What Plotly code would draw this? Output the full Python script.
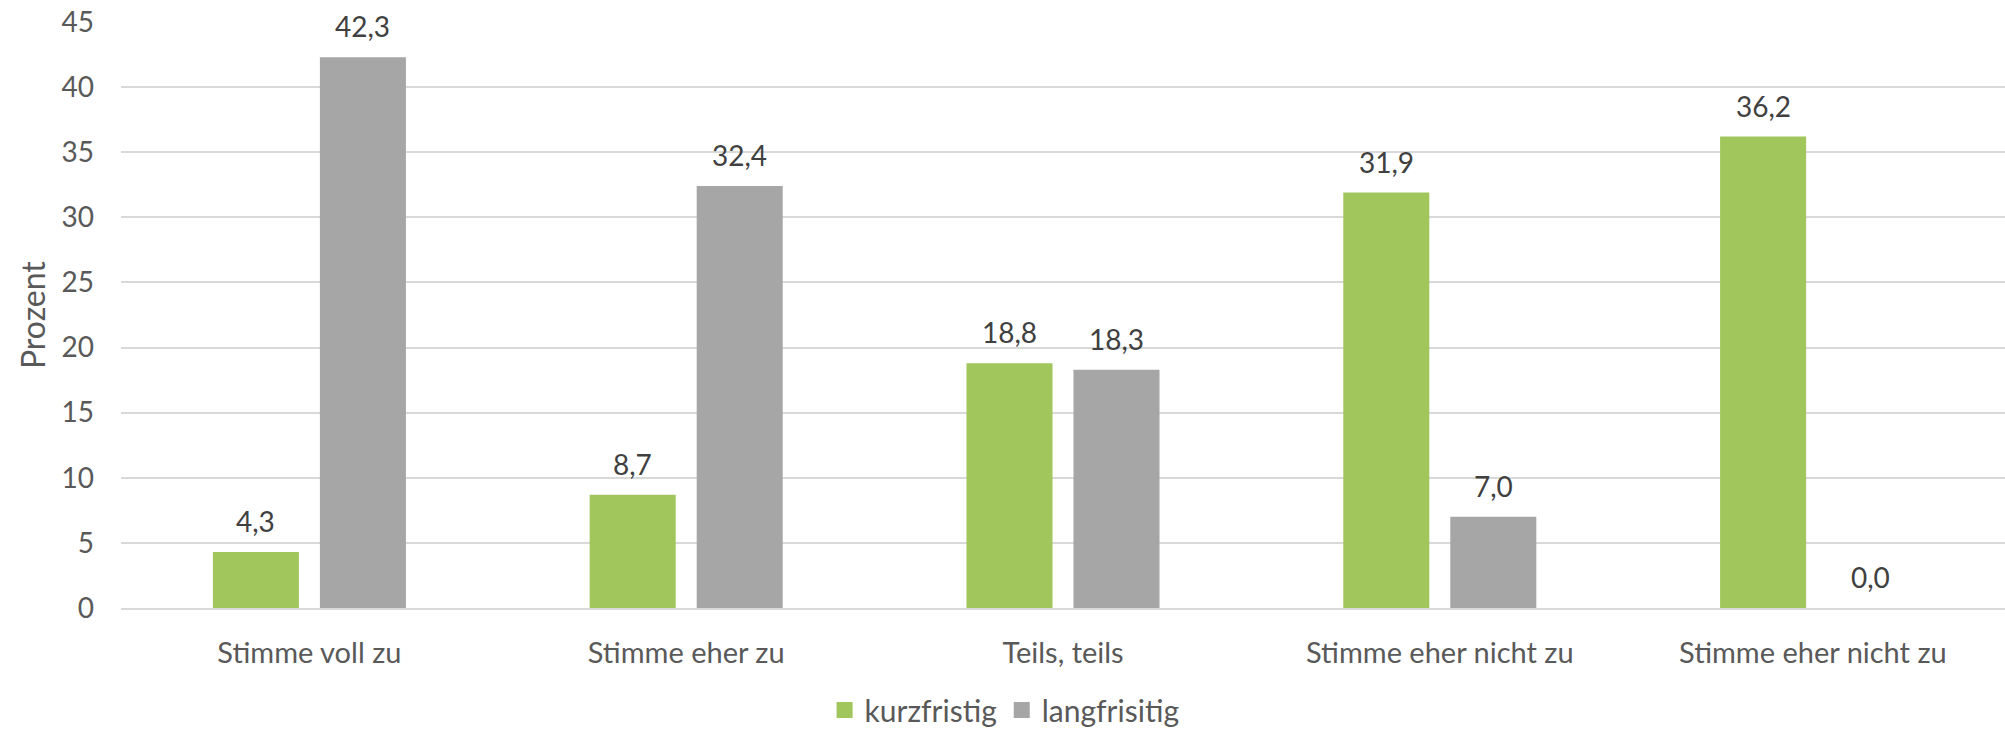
import plotly.graph_objects as go

categories = ["Stimme voll zu", "Stimme eher zu", "Teils, teils", "Stimme eher nicht zu", "Stimme eher nicht zu "]
kurzfristig = [4.3, 8.7, 18.8, 31.9, 36.2]
langfristig = [42.3, 32.4, 18.3, 7.0, 0.0]
y_ticks = [0, 5, 10, 15, 20, 25, 30, 35, 40, 45]

FONT = "Lato"
GREEN = "#A1C65B"
GRAY = "#A6A6A6"
SLOT_PX = 53.5  # half-slot offset of grouped bars in pixels

fig = go.Figure()
fig.add_trace(go.Bar(x=categories, y=kurzfristig, name="kurzfristig",
                     marker=dict(color=GREEN, line=dict(width=0)), showlegend=False))
fig.add_trace(go.Bar(x=categories, y=langfristig, name="langfrisitig",
                     marker=dict(color=GRAY, line=dict(width=0)), showlegend=False))
# legend entries with larger square swatches
for name, color in (("kurzfristig", GREEN), ("langfrisitig", GRAY)):
    fig.add_trace(go.Scatter(x=[None], y=[None], mode="markers", name=name,
                             marker=dict(symbol="square", size=16, color=color)))

annotations = []
for series, shift in ((kurzfristig, -SLOT_PX), (langfristig, SLOT_PX)):
    for cat, val in zip(categories, series):
        annotations.append(dict(
            x=cat, y=val, xref="x", yref="y", text=f"{val:.1f}".replace(".", ","),
            showarrow=False, xshift=shift, yshift=12, yanchor="bottom",
            font=dict(family=FONT, size=28, color="#404040"),
        ))
annotations.append(dict(text="Prozent", textangle=-90, x=-0.0472, y=0.5,
                        xref="paper", yref="paper", showarrow=False,
                        xanchor="center", yanchor="middle",
                        font=dict(family=FONT, size=32, color="#595959")))

fig.update_layout(
    width=2005, height=736,
    margin=dict(l=121, r=0, t=22, b=120),
    paper_bgcolor="white", plot_bgcolor="white",
    separators=",.",
    barmode="group", bargap=0.432, bargroupgap=0.196,
    font=dict(family=FONT, size=30, color="#595959"),
    showlegend=True,
    legend=dict(orientation="h", x=0.469, xanchor="center", y=-0.175, yanchor="middle",
                font=dict(family=FONT, size=30, color="#595959"),
                itemwidth=30, traceorder="normal"),
    annotations=annotations,
)
fig.update_yaxes(range=[0, 45], tickvals=y_ticks, showgrid=True, gridcolor="#D9D9D9",
                 gridwidth=1.5, zeroline=False, showline=False, ticks="",
                 ticklabelstandoff=26, tickfont=dict(family=FONT, size=28, color="#595959"))
fig.update_xaxes(showline=True, linecolor="#D9D9D9", linewidth=1.5, ticks="",
                 ticklabelstandoff=18, tickfont=dict(family=FONT, size=29, color="#595959"))

fig.write_html("out.html", config={"displayModeBar": False},
               post_script="document.body.style.margin='0';document.body.style.overflow='hidden';")
